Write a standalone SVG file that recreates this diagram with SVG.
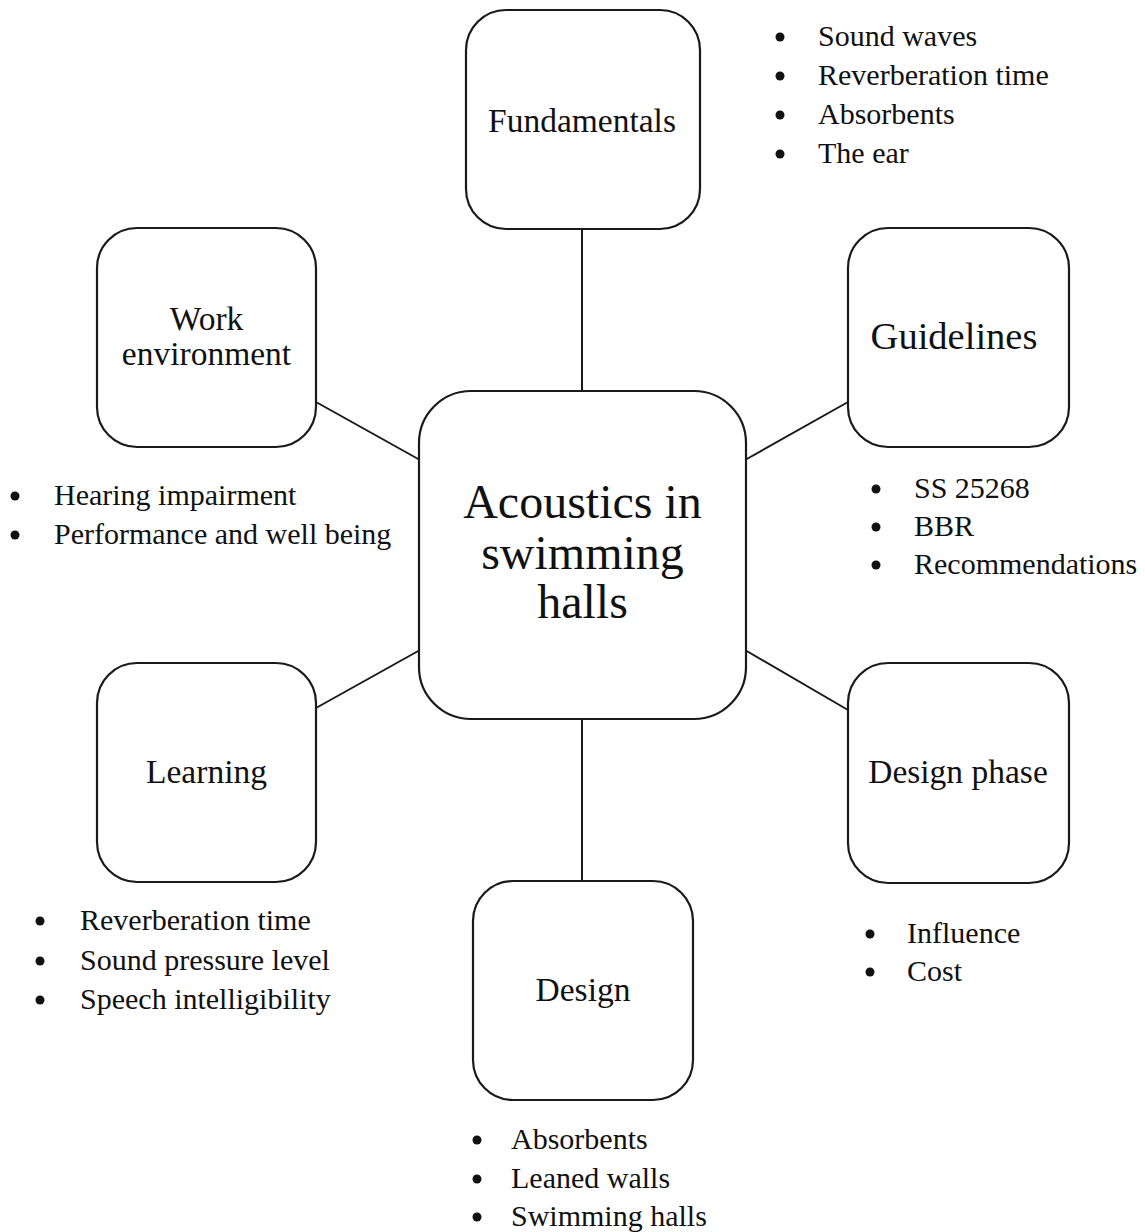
<svg xmlns="http://www.w3.org/2000/svg" width="1145" height="1232" viewBox="0 0 1145 1232">
<style>
.box{fill:#fff;stroke:#1a1a1a;stroke-width:2.2}
.lbl{font-family:"Liberation Serif","Times New Roman",serif;font-size:33.5px;fill:#111;text-anchor:middle}
.big{font-size:48px}
.gl{font-size:38.5px}
.bt{font-family:"Liberation Serif","Times New Roman",serif;font-size:30px;fill:#111}
.conn line{stroke:#1a1a1a;stroke-width:2}
.dot{fill:#111}
</style>
<rect width="1145" height="1232" fill="#fff"/>
<g id="connectors" class="conn">
<line x1="582" y1="229" x2="582" y2="392"/>
<line x1="582" y1="718" x2="582" y2="882"/>
<line x1="316" y1="402" x2="420" y2="460"/>
<line x1="848" y1="402" x2="745" y2="460"/>
<line x1="316" y1="708" x2="420" y2="650"/>
<line x1="848" y1="710" x2="745" y2="650"/>
</g>
<g id="center">
<rect class="box" x="419" y="391" width="327" height="328" rx="52"/>
<text class="lbl big" x="582.5" y="518">Acoustics in</text>
<text class="lbl big" x="582.5" y="569">swimming</text>
<text class="lbl big" x="582.5" y="618">halls</text>
</g>
<g id="fundamentals">
<rect class="box" x="466" y="10" width="234" height="219" rx="40"/>
<text class="lbl" x="582" y="132">Fundamentals</text>
<circle class="dot" cx="780" cy="37" r="4.5"/><text class="bt" x="818" y="46">Sound waves</text>
<circle class="dot" cx="780" cy="76" r="4.5"/><text class="bt" x="818" y="85">Reverberation time</text>
<circle class="dot" cx="780" cy="115" r="4.5"/><text class="bt" x="818" y="124">Absorbents</text>
<circle class="dot" cx="780" cy="154" r="4.5"/><text class="bt" x="818" y="163">The ear</text>
</g>
<g id="guidelines">
<rect class="box" x="848" y="228" width="221" height="219" rx="40"/>
<text class="lbl gl" x="954" y="349">Guidelines</text>
<circle class="dot" cx="876" cy="489" r="4.5"/><text class="bt" x="914" y="498">SS 25268</text>
<circle class="dot" cx="876" cy="527" r="4.5"/><text class="bt" x="914" y="536">BBR</text>
<circle class="dot" cx="876" cy="565" r="4.5"/><text class="bt" x="914" y="574">Recommendations</text>
</g>
<g id="work-environment">
<rect class="box" x="97" y="228" width="219" height="219" rx="40"/>
<text class="lbl" x="206.5" y="330">Work</text>
<text class="lbl" x="206.5" y="365">environment</text>
<circle class="dot" cx="15" cy="496" r="4.5"/><text class="bt" x="54" y="505">Hearing impairment</text>
<circle class="dot" cx="15" cy="535" r="4.5"/><text class="bt" x="54" y="544">Performance and well being</text>
</g>
<g id="learning">
<rect class="box" x="97" y="663" width="219" height="219" rx="40"/>
<text class="lbl" x="206.5" y="783">Learning</text>
<circle class="dot" cx="40" cy="921" r="4.5"/><text class="bt" x="80" y="930">Reverberation time</text>
<circle class="dot" cx="40" cy="961" r="4.5"/><text class="bt" x="80" y="970">Sound pressure level</text>
<circle class="dot" cx="40" cy="1000" r="4.5"/><text class="bt" x="80" y="1009">Speech intelligibility</text>
</g>
<g id="design-phase">
<rect class="box" x="848" y="663" width="221" height="220" rx="40"/>
<text class="lbl" x="958" y="783">Design phase</text>
<circle class="dot" cx="870" cy="934" r="4.5"/><text class="bt" x="907" y="943">Influence</text>
<circle class="dot" cx="870" cy="972" r="4.5"/><text class="bt" x="907" y="981">Cost</text>
</g>
<g id="design">
<rect class="box" x="473" y="881" width="220" height="219" rx="40"/>
<text class="lbl" x="583" y="1001">Design</text>
<circle class="dot" cx="477" cy="1140" r="4.5"/><text class="bt" x="511" y="1149">Absorbents</text>
<circle class="dot" cx="477" cy="1179" r="4.5"/><text class="bt" x="511" y="1188">Leaned walls</text>
<circle class="dot" cx="477" cy="1217" r="4.5"/><text class="bt" x="511" y="1226">Swimming halls</text>
</g>
</svg>
